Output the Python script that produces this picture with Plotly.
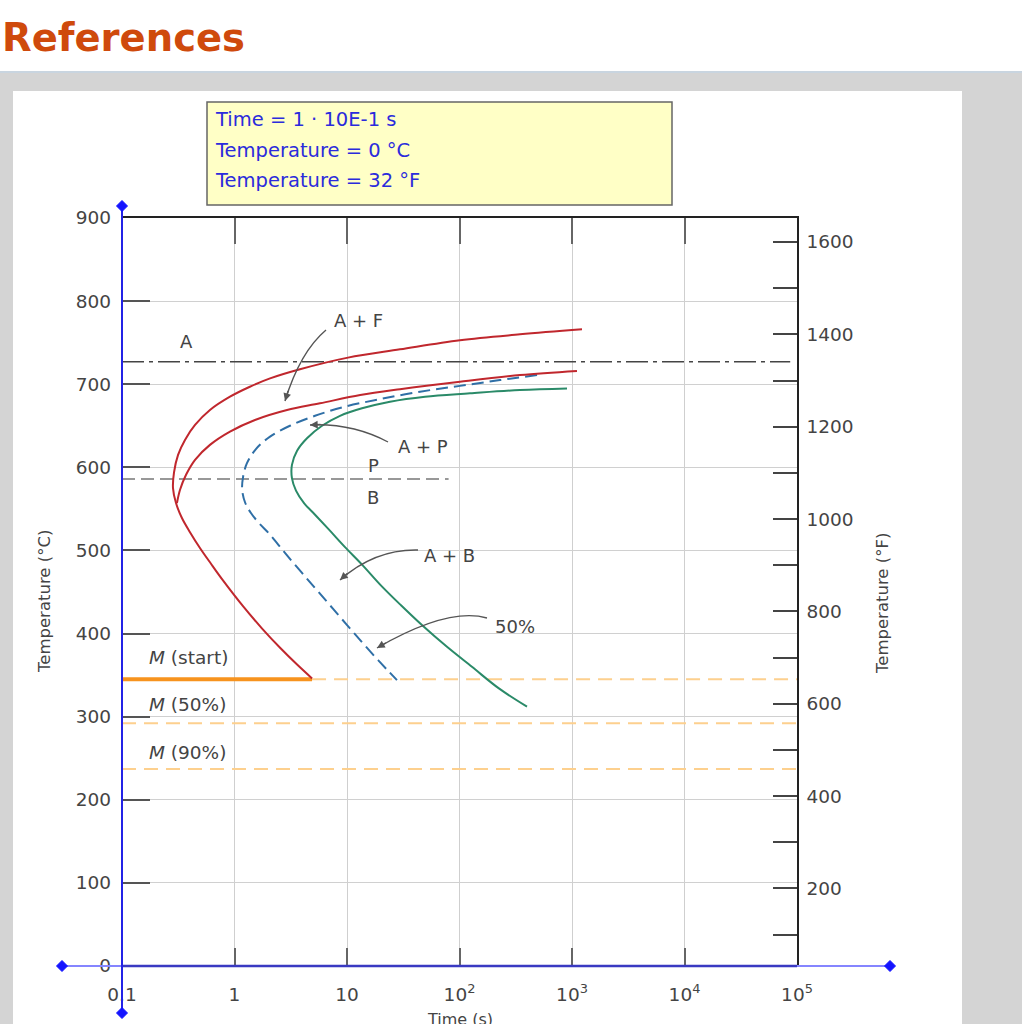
import plotly.graph_objects as go

# ---------------- data (time in s, temperature in °C) ----------------
ferrite_start_time = [1227, 345, 101, 29.6, 10.2, 3.82, 2.07, 1.37, 0.912, 0.605, 0.446, 0.363, 0.315, 0.29,
                      0.284, 0.302, 0.341, 0.402, 0.493, 0.618, 0.79, 1.19, 1.76, 2.58, 3.58, 4.89]
ferrite_start_temp = [766, 760, 753, 742, 732, 718, 707, 697, 685, 669, 651, 633, 615, 594,
                      575, 557, 539, 522, 503, 484, 464, 433, 406, 382, 363, 346]

pearlite_start_time = [1107, 345, 101, 29.6, 13.1, 5.75, 2.93, 1.52, 0.912, 0.605, 0.446, 0.371, 0.328, 0.308]
pearlite_start_temp = [716, 711, 703, 694, 687, 677, 669, 657, 643, 627, 609, 591, 573, 557]

half_time = [489, 229, 101, 44.6, 19.6, 9.6, 5.2, 3.11, 2.07, 1.55, 1.29, 1.19, 1.17, 1.24, 1.4, 1.65,
             2.07, 2.81, 3.98, 5.75, 8.67, 13.1, 18.9, 27.8]
half_temp = [711, 705, 698, 691, 682, 673, 662, 650, 637, 622, 605, 588, 573, 558, 545, 533,
             519, 497, 473, 448, 420, 392, 368, 344]

finish_time = [903, 345, 124, 49.4, 24.1, 13.6, 8.67, 6.0, 4.41, 3.6, 3.24, 3.24, 3.52, 4.15, 5.2, 6.92,
               9.6, 13.6, 20.0, 30.2, 47.4, 77.4, 129, 224, 398]
finish_temp = [695, 693, 689, 685, 679, 671, 662, 650, 635, 620, 603, 587, 572, 557, 543, 525,
               504, 483, 458, 434, 409, 384, 360, 334, 312]

a1_temp = 727
a1_time = [0.1, 87000]
pb_temp = 586
pb_time = [0.1, 80]
ms_temp = 345
ms_solid_time = [0.1, 4.89]
ms_dash_time = [4.89, 100000]
m50_temp = 292
m90_temp = 237
m_time = [0.1, 100000]

time_ticks = [0.1, 1, 10, 100, 1000, 10000, 100000]
time_tick_labels = ["0.1", "1", "10", "10<sup>2</sup>", "10<sup>3</sup>", "10<sup>4</sup>", "10<sup>5</sup>"]
temp_c_ticks = [0, 100, 200, 300, 400, 500, 600, 700, 800, 900]
temp_f_ticks = [100, 200, 300, 400, 500, 600, 700, 800, 900, 1000, 1100, 1200, 1300, 1400, 1500, 1600]
temp_f_labels = ["", "200", "", "400", "", "600", "", "800", "", "1000", "", "1200", "", "1400", "", "1600"]

info_lines = ["Time = 1 · 10E-1 s", "Temperature = 0 °C", "Temperature = 32 °F"]
region_labels = ["A", "A + F", "A + P", "P", "B", "A + B", "50%"]
m_labels = ["<i>M</i> (start)", "<i>M</i> (50%)", "<i>M</i> (90%)"]

# ---------------- figure geometry helpers ----------------
W, H = 1022, 1024
L, R, T, B = 122, 225, 218, 58
PW, PH = W - L - R, H - T - B


def PX(px):
    return (px - L) / PW


def PY(py):
    return (H - B - py) / PH


FONT = "DejaVu Sans"
RED = "#c0272d"
BLUE = "#2f6fa6"
GREEN = "#2a8a68"
ORANGE = "#f7931e"
LORANGE = "#fdd08e"

fig = go.Figure()


def line(x, y, color, width, dash="solid", shape="linear"):
    fig.add_trace(go.Scatter(x=x, y=y, mode="lines",
                             line=dict(color=color, width=width, dash=dash, shape=shape, smoothing=1.0),
                             hoverinfo="skip", showlegend=False))


line(a1_time, [a1_temp] * 2, "#444444", 1.5, "22px,5px,4px,5px")
line(pb_time, [pb_temp] * 2, "#777777", 1.5, "13px,6px")
line(ms_dash_time, [ms_temp] * 2, LORANGE, 2, "14px,8px")
line(m_time, [m50_temp] * 2, LORANGE, 2, "14px,8px")
line(m_time, [m90_temp] * 2, LORANGE, 2, "14px,8px")
line(ms_solid_time, [ms_temp] * 2, ORANGE, 4)

line(finish_time, finish_temp, GREEN, 2, shape="spline")
line(half_time, half_temp, BLUE, 2, "12px,6px", shape="spline")
line(ferrite_start_time, ferrite_start_temp, RED, 2, shape="spline")
line(pearlite_start_time, pearlite_start_temp, RED, 2, shape="spline")

# dummy traces so the secondary axes exist
fig.add_trace(go.Scatter(x=[None], y=[None], xaxis="x2", yaxis="y", showlegend=False, hoverinfo="skip"))
fig.add_trace(go.Scatter(x=[None], y=[None], xaxis="x", yaxis="y2", showlegend=False, hoverinfo="skip"))

shapes = []
# page background
shapes.append(dict(type="rect", xref="paper", yref="paper", x0=PX(-2), x1=PX(W + 2), y0=PY(72), y1=PY(H + 2),
                   fillcolor="#d4d4d4", line=dict(width=0), layer="below"))
shapes.append(dict(type="line", xref="paper", yref="paper", x0=PX(-2), x1=PX(W + 2), y0=PY(72), y1=PY(72),
                   line=dict(color="#c9d5e0", width=2), layer="below"))
shapes.append(dict(type="rect", xref="paper", yref="paper", x0=PX(13), x1=PX(962), y0=PY(91), y1=PY(H + 2),
                   fillcolor="white", line=dict(width=0), layer="below"))
# info box
shapes.append(dict(type="rect", xref="paper", yref="paper", x0=PX(207), x1=PX(672), y0=PY(102), y1=PY(205),
                   fillcolor="#ffffc6", line=dict(color="#666666", width=1.5), layer="above"))
# blue axes
shapes.append(dict(type="line", xref="paper", yref="paper", x0=PX(62), x1=PX(890), y0=PY(966), y1=PY(966),
                   line=dict(color="#8585ff", width=2)))
shapes.append(dict(type="line", xref="paper", yref="paper", x0=0, x1=1, y0=PY(966), y1=PY(966),
                   line=dict(color="#3a3ac2", width=2.5)))
shapes.append(dict(type="line", xref="paper", yref="paper", x0=0, x1=0, y0=PY(1013), y1=PY(205),
                   line=dict(color="#2323e6", width=2)))
for cx, cy in [(122, 206), (122, 1013), (62, 966), (890, 966)]:
    d = 5.5
    p = "M {} {} L {} {} L {} {} L {} {} Z".format(PX(cx - d), PY(cy), PX(cx), PY(cy - d), PX(cx + d), PY(cy),
                                                 PX(cx), PY(cy + d))
    shapes.append(dict(type="path", xref="paper", yref="paper", path=p, fillcolor="#1414ff",
                       line=dict(color="#1414ff", width=1)))

annotations = []
# curved arrows: start, control, end (pixels)
arrows = [((326, 330), (300, 352), (285, 401)),
          ((388, 442), (352, 423), (310, 425)),
          ((418, 550), (375, 549), (340, 580)),
          ((487, 618), (448, 607), (377, 648))]
for (sx, sy), (cx, cy), (ex, ey) in arrows:
    p = "M {} {} Q {} {} {} {}".format(PX(sx), PY(sy), PX(cx), PY(cy), PX(ex), PY(ey))
    shapes.append(dict(type="path", xref="paper", yref="paper", path=p, line=dict(color="#555555", width=1.4)))
    dx, dy = cx - ex, cy - ey
    n = (dx * dx + dy * dy) ** 0.5
    annotations.append(dict(xref="paper", yref="paper", x=PX(ex), y=PY(ey), ax=dx / n * 12, ay=dy / n * 12,
                            text="", showarrow=True, arrowhead=2, arrowsize=1.1, arrowwidth=1.4,
                            arrowcolor="#555555", standoff=0))


def text(x, y, t, size, color="#444444", xanchor="center", angle=0):
    annotations.append(dict(xref="paper", yref="paper", x=PX(x), y=PY(y), xanchor=xanchor, yanchor="middle",
                            text=t, showarrow=False, textangle=angle,
                            font=dict(family=FONT, size=size, color=color)))


# title
text(0, 38, "<b>References</b>", 38.5, "#cf4a0c", "left")
# info box text
for i, t in enumerate(info_lines):
    text(213, 119 + 31 * i, t, 19.5, "#2b2bdc", "left")
# region labels
label_pos = [(186, 341), (358, 320), (423, 446), (373, 465), (373, 497), (449, 555), (515, 626)]
for t, (x, y) in zip(region_labels, label_pos):
    text(x, y, t, 18)
for t, y in zip(m_labels, [657, 704, 752]):
    text(147, y, t, 18.5, xanchor="left")
# axis titles
text(44, 602, "Temperature (°C)", 16.5, angle=-90)
text(882, 604, "Temperature (°F)", 16.5, angle=-90)
text(460, 1019, "Time (s)", 16)

tickfont = dict(family=FONT, size=18.5, color="#444444")
fig.update_layout(
    width=W, height=H, autosize=False,
    margin=dict(l=L, r=R, t=T, b=B, pad=0),
    paper_bgcolor="white", plot_bgcolor="rgba(0,0,0,0)",
    showlegend=False,
    xaxis=dict(type="log", range=[-1, 5], tickvals=time_ticks, ticktext=time_tick_labels,
               ticks="inside", ticklen=18, tickwidth=1.5, tickcolor="#666666",
               showgrid=True, gridcolor="#cfcfcf", gridwidth=1, showline=False, zeroline=False,
               tickfont=tickfont, ticklabelstandoff=15),
    xaxis2=dict(type="log", range=[-1, 5], overlaying="x", side="top", anchor="y",
                tickvals=time_ticks[1:-1], ticks="inside", ticklen=26, tickwidth=1.5, tickcolor="#666666",
                showticklabels=False, showline=True, linecolor="#222222", linewidth=1.5,
                showgrid=False, zeroline=False),
    yaxis=dict(range=[0, 900], tickvals=temp_c_ticks, ticks="inside", ticklen=28, tickwidth=1.5,
               tickcolor="#555555", showgrid=True, gridcolor="#d0d0d0", gridwidth=1, showline=False,
               zeroline=False, tickfont=tickfont, ticklabelstandoff=10),
    yaxis2=dict(range=[32, 1652], overlaying="y", side="right", anchor="x", tickvals=temp_f_ticks,
                ticktext=temp_f_labels, ticks="inside", ticklen=24, tickwidth=1.5, tickcolor="#444444",
                showline=True, linecolor="#222222", linewidth=1.5, showgrid=False, zeroline=False,
                tickfont=tickfont, ticklabelstandoff=4),
    shapes=shapes,
    annotations=annotations,
)

fig.write_html("out.html", config={"displayModeBar": False},
               post_script="document.body.style.margin='0px';document.body.style.overflow='hidden';")
